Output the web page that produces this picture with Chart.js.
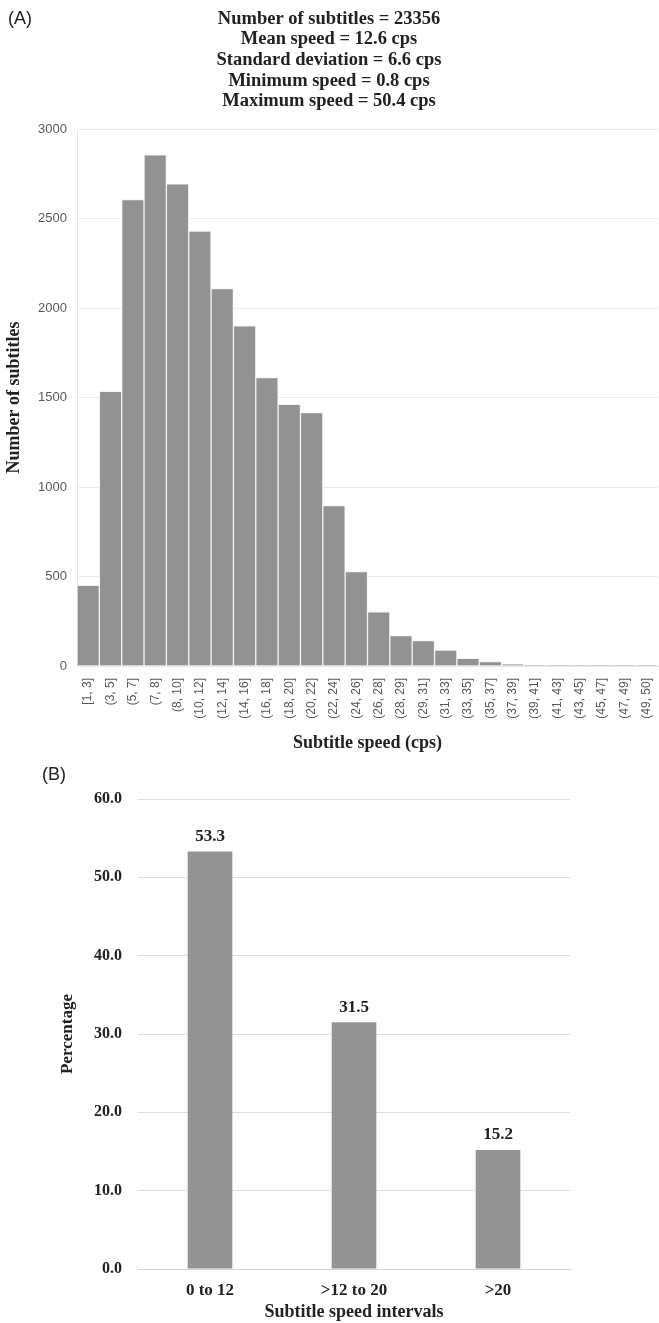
<!DOCTYPE html>
<html>
<head>
<meta charset="utf-8">
<script src="https://cdn.jsdelivr.net/npm/chart.js@4.4.1/dist/chart.umd.min.js"></script>
<style>
  html, body { margin: 0; padding: 0; background: #fff; }
  body { width: 659px; height: 1323px; position: relative; overflow: hidden; }
  .panel { position: absolute; left: 0; width: 659px; }
  #wrapA { top: 0; height: 765px; }
  #wrapB { top: 765px; height: 558px; }
  .tag { position: absolute; font-family: "Liberation Sans", Arial, sans-serif; font-size: 18px; color: #222; }
</style>
</head>
<body>
<div class="panel" id="wrapA"><canvas id="chartA" width="659" height="765"></canvas></div>
<div class="panel" id="wrapB"><canvas id="chartB" width="659" height="558"></canvas></div>
<div class="tag" style="left:8px; top:8px;">(A)</div>
<div class="tag" style="left:42px; top:764px;">(B)</div>
<script>
// ---- Panel A data ----
const speedBins = ["[1, 3]", "(3, 5]", "(5, 7]", "(7, 8]", "(8, 10]", "(10, 12]", "(12, 14]", "(14, 16]",
  "(16, 18]", "(18, 20]", "(20, 22]", "(22, 24]", "(24, 26]", "(26, 28]", "(28, 29]", "(29, 31]",
  "(31, 33]", "(33, 35]", "(35, 37]", "(37, 39]", "(39, 41]", "(41, 43]", "(43, 45]", "(45, 47]",
  "(47, 49]", "(49, 50]"];
const subtitleCounts = [450, 1534, 2606, 2856, 2694, 2430, 2108, 1900, 1611, 1462, 1416, 896, 527, 303,
  170, 142, 89, 43, 24, 11, 2, 4, 1, 4, 1, 1];
const countTicks = [0, 500, 1000, 1500, 2000, 2500, 3000];
const statsLines = ["Number of subtitles = 23356", "Mean speed = 12.6 cps", "Standard deviation = 6.6 cps",
  "Minimum speed = 0.8 cps", "Maximum speed = 50.4 cps"];

// ---- Panel B data ----
const intervalLabels = ["0 to 12", ">12 to 20", ">20"];
const intervalPercent = [53.3, 31.5, 15.2];
const percentTicks = [0, 10, 20, 30, 40, 50, 60];

const SERIF = "'Liberation Serif', 'Times New Roman', serif";
const SANS = "'Liberation Sans', Arial, sans-serif";

new Chart(document.getElementById('chartA'), {
  type: 'bar',
  data: {
    labels: speedBins,
    datasets: [{
      data: subtitleCounts,
      backgroundColor: '#929292',
      borderColor: '#f2f2f2',
      borderWidth: 1,
      barPercentage: 1,
      categoryPercentage: 1
    }]
  },
  options: {
    responsive: false,
    animation: false,
    devicePixelRatio: 1,
    layout: { padding: { left: 0, right: 1, top: 0, bottom: 0 } },
    plugins: {
      legend: { display: false },
      tooltip: { enabled: false },
      title: {
        display: true,
        text: statsLines,
        color: '#222',
        font: { family: SERIF, size: 18.5, weight: 'bold', lineHeight: '20.7px' },
        padding: { top: 8.5, bottom: 17 }
      }
    },
    scales: {
      x: {
        grid: { display: false, drawTicks: false },
        border: { display: true, color: '#e6e6e6' },
        ticks: {
          color: '#595959', font: { family: SANS, size: 12 },
          minRotation: 90, maxRotation: 90, autoSkip: false, padding: 12
        },
        title: {
          display: true, text: 'Subtitle speed (cps)', color: '#222',
          font: { family: SERIF, size: 18, weight: 'bold' },
          padding: { top: 0, bottom: 11 }
        },
        afterFit: (s) => { s.height = 99; s.paddingLeft = 0; s.paddingRight = 0; }
      },
      y: {
        min: 0, max: 3000,
        afterBuildTicks: (s) => { s.ticks = countTicks.map(v => ({ value: v })); },
        grid: { color: '#ebebeb', drawTicks: false },
        border: { display: true, color: '#e6e6e6' },
        ticks: {
          color: '#595959', font: { family: SANS, size: 13 }, padding: 10,
          callback: (v) => String(v)
        },
        title: {
          display: true, text: 'Number of subtitles', color: '#222',
          font: { family: SERIF, size: 18, weight: 'bold' },
          padding: { top: 4, bottom: 0 }
        },
        afterFit: (s) => { s.width = 77; }
      }
    }
  }
});

const valueLabels = {
  id: 'valueLabels',
  afterDatasetsDraw(chart) {
    const ctx = chart.ctx;
    const meta = chart.getDatasetMeta(0);
    ctx.save();
    ctx.font = "bold 17px " + SERIF;
    ctx.fillStyle = '#222';
    ctx.textAlign = 'center';
    ctx.textBaseline = 'middle';
    meta.data.forEach((bar, i) => {
      const v = chart.data.datasets[0].data[i];
      ctx.fillText(v.toFixed(1), bar.x, bar.y - 15);
    });
    ctx.restore();
  }
};

new Chart(document.getElementById('chartB'), {
  type: 'bar',
  data: {
    labels: intervalLabels,
    datasets: [{
      data: intervalPercent,
      backgroundColor: '#939393',
      borderWidth: 0,
      barPercentage: 0.31,
      categoryPercentage: 1
    }]
  },
  options: {
    responsive: false,
    animation: false,
    devicePixelRatio: 1,
    layout: { padding: { left: 0, right: 89, top: 34, bottom: 0 } },
    plugins: { legend: { display: false }, tooltip: { enabled: false } },
    scales: {
      x: {
        grid: { display: false, drawTicks: false },
        border: { display: true, color: '#d4d4d4', width: 1 },
        ticks: { color: '#222', font: { family: SERIF, size: 17, weight: 'bold' }, padding: 11 },
        title: {
          display: true, text: 'Subtitle speed intervals', color: '#222',
          font: { family: SERIF, size: 18, weight: 'bold', lineHeight: 1.1 },
          padding: { top: 0, bottom: 1 }
        },
        afterFit: (s) => { s.height = 54; }
      },
      y: {
        min: 0, max: 60,
        afterBuildTicks: (s) => { s.ticks = percentTicks.map(v => ({ value: v })); },
        grid: { color: '#dddddd', drawTicks: false },
        border: { display: false },
        ticks: {
          color: '#222', font: { family: SERIF, size: 16, weight: 'bold' }, padding: 16,
          callback: (v) => Number(v).toFixed(1)
        },
        title: {
          display: true, text: 'Percentage', color: '#222',
          font: { family: SERIF, size: 17, weight: 'bold' },
          padding: { top: 57, bottom: 0 }
        },
        afterFit: (s) => { s.width = 138; }
      }
    }
  },
  plugins: [valueLabels]
});
</script>
</body>
</html>
